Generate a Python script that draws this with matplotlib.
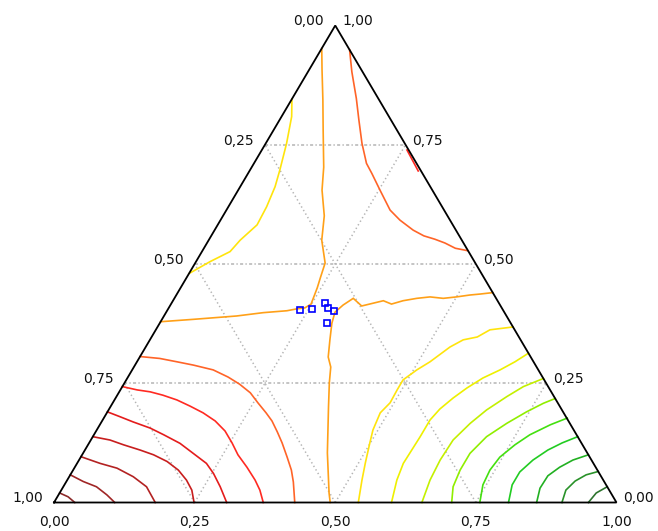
import matplotlib
matplotlib.use("Agg")
import matplotlib.pyplot as plt
import numpy as np

# Ternary compositions: B = bottom-right component, T = top component
# (left component L = 1 - B - T). Each iso-line is a polyline of (B, T).
iso_01 = ([0.000, 0.019, 0.037], [0.020, 0.012, 0.000])
iso_02 = ([0.000, 0.030, 0.059, 0.086, 0.108], [0.058, 0.044, 0.033, 0.016, 0.000])
iso_03 = ([0.000, 0.041, 0.076, 0.114, 0.148, 0.180], [0.096, 0.082, 0.072, 0.054, 0.033, 0.000])
iso_04 = ([0.000, 0.034, 0.063, 0.098, 0.127, 0.158, 0.187, 0.212, 0.232, 0.249],
          [0.138, 0.131, 0.121, 0.110, 0.100, 0.086, 0.068, 0.047, 0.026, 0.000])
iso_05 = ([0.000, 0.027, 0.056, 0.093, 0.124, 0.162, 0.196, 0.230, 0.253, 0.279, 0.307],
          [0.190, 0.180, 0.169, 0.156, 0.142, 0.124, 0.103, 0.082, 0.061, 0.033, 0.000])
iso_06 = ([0.000, 0.030, 0.055, 0.081, 0.111, 0.141, 0.171, 0.201, 0.229, 0.254, 0.277, 0.306, 0.334, 0.353, 0.372],
          [0.243, 0.236, 0.232, 0.225, 0.215, 0.202, 0.188, 0.171, 0.150, 0.125, 0.100, 0.074, 0.047, 0.026, 0.000])
iso_06b = ([0.258, 0.300], [0.739, 0.695])
iso_07 = ([0.000, 0.037, 0.071, 0.104, 0.144, 0.178, 0.206, 0.234, 0.258, 0.283, 0.302, 0.323, 0.343, 0.367, 0.388, 0.404, 0.428],
          [0.306, 0.302, 0.295, 0.288, 0.278, 0.263, 0.248, 0.230, 0.209, 0.188, 0.171, 0.148, 0.125, 0.095, 0.068, 0.043, 0.000])
iso_07b = ([0.051, 0.078, 0.114, 0.141, 0.171, 0.200, 0.220, 0.252, 0.291, 0.319, 0.353, 0.378, 0.401, 0.423, 0.447, 0.471],
           [0.949, 0.903, 0.847, 0.802, 0.753, 0.711, 0.690, 0.655, 0.613, 0.592, 0.571, 0.559, 0.552, 0.544, 0.533, 0.528])
iso_08 = ([0.000, 0.056, 0.129, 0.173, 0.213, 0.229, 0.242, 0.249, 0.246, 0.243, 0.238, 0.231, 0.201, 0.180, 0.149, 0.128, 0.088, 0.056, 0.023, 0.000],
          [0.379, 0.384, 0.391, 0.398, 0.402, 0.406, 0.408, 0.416, 0.433, 0.450, 0.471, 0.502, 0.550, 0.601, 0.655, 0.703, 0.781, 0.844, 0.907, 0.952])
iso_08b = ([0.491, 0.479, 0.434, 0.388, 0.364, 0.350, 0.335, 0.320, 0.306, 0.300, 0.307, 0.318, 0.341, 0.359, 0.374, 0.392, 0.409, 0.431, 0.453, 0.478, 0.500, 0.522, 0.539, 0.560],
           [0.000, 0.020, 0.104, 0.200, 0.251, 0.284, 0.305, 0.341, 0.376, 0.399, 0.414, 0.428, 0.412, 0.418, 0.423, 0.416, 0.423, 0.428, 0.431, 0.428, 0.431, 0.435, 0.437, 0.440])
iso_09 = ([0.632, 0.594, 0.579, 0.557, 0.541, 0.521, 0.506, 0.492, 0.492, 0.493, 0.486, 0.491, 0.499, 0.512, 0.524, 0.541],
          [0.368, 0.362, 0.347, 0.341, 0.326, 0.295, 0.278, 0.257, 0.236, 0.209, 0.188, 0.152, 0.125, 0.083, 0.047, 0.000])
iso_09b = ([0.000, 0.025, 0.050, 0.056, 0.070, 0.068, 0.062, 0.053, 0.037, 0.018, 0.000],
           [0.480, 0.505, 0.526, 0.550, 0.582, 0.620, 0.662, 0.697, 0.753, 0.809, 0.846])
iso_10 = ([0.687, 0.672, 0.654, 0.632, 0.614, 0.600, 0.588, 0.582, 0.582, 0.581, 0.580, 0.586, 0.600],
          [0.313, 0.295, 0.278, 0.261, 0.240, 0.219, 0.196, 0.173, 0.138, 0.110, 0.082, 0.047, 0.000])
iso_11 = ([0.740, 0.713, 0.694, 0.672, 0.657, 0.644, 0.642, 0.645, 0.654],
          [0.260, 0.243, 0.222, 0.194, 0.166, 0.131, 0.089, 0.047, 0.000])
iso_12 = ([0.782, 0.766, 0.745, 0.722, 0.700, 0.688, 0.688, 0.693, 0.707],
          [0.218, 0.208, 0.190, 0.166, 0.138, 0.103, 0.068, 0.033, 0.000])
iso_13 = ([0.824, 0.801, 0.775, 0.759, 0.745, 0.741, 0.744, 0.757],
          [0.177, 0.163, 0.142, 0.121, 0.095, 0.068, 0.037, 0.000])
iso_14 = ([0.862, 0.841, 0.823, 0.807, 0.796, 0.796, 0.808],
          [0.138, 0.125, 0.110, 0.089, 0.064, 0.037, 0.000])
iso_15 = ([0.900, 0.878, 0.862, 0.850, 0.849, 0.858],
          [0.100, 0.089, 0.074, 0.056, 0.030, 0.000])
iso_16 = ([0.935, 0.917, 0.904, 0.897, 0.903],
          [0.065, 0.058, 0.045, 0.026, 0.000])
iso_17 = ([0.967, 0.954, 0.950], [0.033, 0.020, 0.000])

# Measured sample compositions
pts_b = [0.236, 0.256, 0.272, 0.284, 0.296, 0.297]
pts_t = [0.404, 0.406, 0.419, 0.407, 0.402, 0.377]

tick_values = [0.0, 0.25, 0.5, 0.75, 1.0]
tick_labels = ["0,00", "0,25", "0,50", "0,75", "1,00"]

iso_lines = [
    (iso_01, "#8c2a2a"), (iso_02, "#a02626"), (iso_03, "#b32222"),
    (iso_04, "#c81e1e"), (iso_05, "#e41c1c"), (iso_06, "#ff2a22"),
    (iso_06b, "#ff2a22"), (iso_07, "#ff6428"), (iso_07b, "#ff6428"),
    (iso_08, "#ffa018"), (iso_08b, "#ffa018"), (iso_09, "#ffe40c"),
    (iso_09b, "#ffe40c"), (iso_10, "#eef000"), (iso_11, "#c4f000"),
    (iso_12, "#90ee00"), (iso_13, "#44e010"), (iso_14, "#22cc22"),
    (iso_15, "#22b022"), (iso_16, "#2a922a"), (iso_17, "#2e742e"),
]


def to_xy(b, t):
    b = np.asarray(b, float)
    t = np.asarray(t, float)
    return b + t / 2.0, t


fig = plt.figure(figsize=(6.58, 5.31), dpi=100)
ax = fig.add_axes([54 / 658, 28.5 / 531, 562.5 / 658, 477 / 531])
ax.set_xlim(0, 1)
ax.set_ylim(0, 1)
ax.axis("off")

# grid
grid_col = "#b4b4b4"
for v in [0.25, 0.5, 0.75]:
    # constant top component (horizontal)
    x, y = to_xy([0, 1 - v], [v, v])
    ax.plot(x, y, color=grid_col, lw=1.1, ls=(0, (2.0, 1.5, 0.9, 1.5)), clip_on=False, zorder=1)
    # constant bottom-right component
    x, y = to_xy([v, v], [0, 1 - v])
    ax.plot(x, y, color=grid_col, lw=1.1, ls=(0, (0.9, 1.8)), clip_on=False, zorder=1)
    # constant left component
    x, y = to_xy([1 - v, 0], [0, 1 - v])
    ax.plot(x, y, color=grid_col, lw=1.1, ls=(0, (0.9, 1.8)), clip_on=False, zorder=1)

for (b, t), col in iso_lines:
    x, y = to_xy(b, t)
    ax.plot(x, y, color=col, lw=1.2, clip_on=False, zorder=2, solid_joinstyle="miter")

# frame
x, y = to_xy([0, 1, 0, 0], [0, 0, 1, 0])
ax.plot(x, y, color="black", lw=1.3, clip_on=False, zorder=3, solid_joinstyle="miter")

# sample points
x, y = to_xy(pts_b, pts_t)
ax.plot(x, y, ls="none", marker="s", ms=4.0, mfc="none", mec="#0000ff", mew=1.2,
        clip_on=False, zorder=4)

font = dict(family="DejaVu Sans", size=10, color="#111111")
px = 72.0 / 100.0
for v, lab in zip(tick_values, tick_labels):
    # bottom axis: bottom-right component
    ax.annotate(lab, (v, 0), xytext=(0, -19 * px), textcoords="offset points",
                ha="center", va="center", annotation_clip=False, **font)
    # left axis: left component
    xl, yl = to_xy(0, 1 - v)
    ax.annotate(lab, (xl, yl), xytext=(-11 * px, 4 * px), textcoords="offset points",
                ha="right", va="center", annotation_clip=False, **font)
    # right axis: top component
    xr, yr = to_xy(1 - v, v)
    ax.annotate(lab, (xr, yr), xytext=(7 * px, 4 * px), textcoords="offset points",
                ha="left", va="center", annotation_clip=False, **font)

fig.savefig("out.png", dpi=100)
